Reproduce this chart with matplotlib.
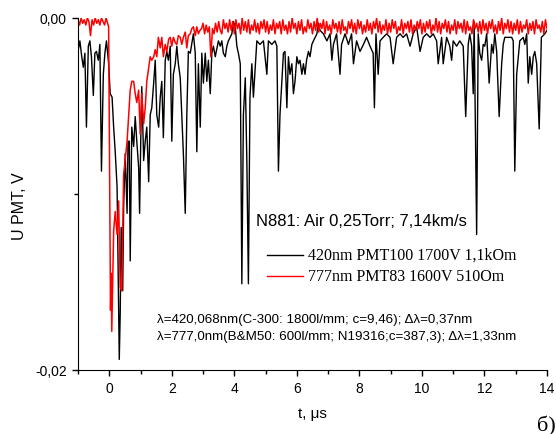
import numpy as np
import matplotlib
matplotlib.use("Agg")
import matplotlib.pyplot as plt
from matplotlib.lines import Line2D

plt.rcParams['font.family'] = ['Liberation Sans', 'DejaVu Sans']

# 420nm channel (black), time in us, signal in mV
black_t = [-1.0, -0.94, -0.88, -0.83, -0.78, -0.73, -0.67, -0.62, -0.57, -0.51, -0.46, -0.41, -0.35,
           -0.30, -0.25, -0.19, -0.14, -0.09, -0.02, 0.03, 0.09, 0.14, 0.19, 0.25, 0.30, 0.32, 0.35,
           0.38, 0.43, 0.46, 0.51, 0.57, 0.60, 0.64, 0.67, 0.72, 0.78, 0.83, 0.88, 0.94, 0.97, 1.01,
           1.04, 1.10, 1.15, 1.20, 1.26, 1.31, 1.36, 1.42, 1.47, 1.52, 1.58, 1.63, 1.68, 1.73, 1.79,
           1.84, 1.89, 1.95, 2.00, 2.05, 2.11, 2.16, 2.21, 2.27, 2.32, 2.37, 2.43, 2.48, 2.53, 2.59,
           2.69, 2.75, 2.80, 2.85, 2.91, 2.96, 3.01, 3.07, 3.12, 3.17, 3.23, 3.28, 3.33, 3.39, 3.49,
           3.55, 3.60, 3.65, 3.71, 3.76, 3.81, 3.92, 3.97, 4.03, 4.08, 4.13, 4.19, 4.24, 4.29, 4.35,
           4.40, 4.45, 4.50, 4.56, 4.61, 4.66, 4.72, 4.82, 4.93, 5.04, 5.09, 5.20, 5.30, 5.36, 5.41,
           5.46, 5.52, 5.57, 5.62, 5.68, 5.73, 5.78, 5.84, 5.89, 5.94, 6.00, 6.05, 6.10, 6.16, 6.21,
           6.26, 6.31, 6.37, 6.42, 6.48, 6.53, 6.64, 6.69, 6.74, 6.85, 6.96, 7.06, 7.12, 7.17, 7.27,
           7.38, 7.43, 7.54, 7.65, 7.75, 7.81, 7.91, 8.02, 8.13, 8.23, 8.34, 8.44, 8.48, 8.53, 8.60,
           8.66, 8.76, 8.87, 8.98, 9.08, 9.19, 9.30, 9.40, 9.51, 9.62, 9.72, 9.83, 9.94, 9.99, 10.04,
           10.15, 10.26, 10.36, 10.47, 10.52, 10.63, 10.68, 10.79, 10.89, 10.95, 11.00, 11.11, 11.21,
           11.32, 11.40, 11.48, 11.53, 11.59, 11.64, 11.67, 11.75, 11.80, 11.85, 11.91, 11.96, 12.01,
           12.07, 12.15, 12.23, 12.28, 12.33, 12.39, 12.47, 12.55, 12.60, 12.65, 12.76, 12.87, 12.92,
           12.97, 13.03, 13.13, 13.24, 13.29, 13.35, 13.40, 13.45, 13.51, 13.56, 13.61, 13.67, 13.75,
           13.82, 13.93, 14.0]
black_mv = [-1.9, -1.3, -2.2, -2.8, -2.0, -6.2, -1.6, -1.3, -2.2, -4.4, -2.0, -1.9, -2.4,
            -1.5, -8.7, -3.2, -2.0, -1.3, -2.6, -4.3, -4.5, -6.2, -7.6, -9.6, -16.8, -19.4, -16.8,
            -11.9, -15.5, -10.7, -7.7, -11.1, -7.0, -7.0, -13.8, -6.2, -7.3, -5.6, -7.0, -8.5, -11.1, -6.6,
            -3.9, -8.1, -7.0, -6.2, -9.3, -5.5, -5.1, -3.7, -2.4, -5.5, -6.2, -4.5, -3.6, -6.8, -2.4,
            -1.9, -2.4, -1.6, -7.0, -3.2, -2.6, -1.6, -2.6, -3.4, -5.5, -7.7, -11.1, -5.5, -1.9, -2.0,
            -0.9, -2.0, -7.6, -2.6, -6.2, -2.0, -3.7, -2.0, -3.6, -2.4, -4.3, -2.0, -1.6, -2.2, -1.3,
            -1.6, -1.3, -2.0, -2.2, -1.6, -1.3, -0.9, -0.2, -0.5, -1.6, -2.0, -2.6, -15.1, -5.5, -3.4,
            -8.1, -15.1, -4.5, -2.6, -4.5, -3.0, -1.3, -1.5, -1.3, -3.2, -1.3, -1.5, -1.3, -1.6, -8.7,
            -5.5, -3.6, -2.0, -1.9, -5.1, -2.2, -3.2, -2.6, -4.3, -3.6, -2.2, -2.6, -2.4, -3.2, -2.6,
            -3.2, -2.4, -1.9, -2.2, -1.5, -1.3, -0.9, -0.3, -0.7, -0.9, -1.3, -0.9, -2.4, -1.5, -0.9,
            -3.2, -1.5, -0.9, -1.5, -0.9, -2.6, -1.3, -1.9, -1.5, -1.1, -1.6, -2.0, -5.1, -0.9, -3.2,
            -1.3, -1.1, -0.9, -1.1, -2.6, -1.1, -0.9, -1.1, -0.9, -1.6, -0.9, -0.5, -1.9, -1.5, -1.1,
            -0.9, -1.1, -0.9, -1.3, -2.6, -1.1, -2.6, -1.1, -1.6, -2.4, -1.3, -1.6, -1.3,
            -1.6, -5.6, -1.5, -0.9, -1.6, -4.3, -0.2, -12.3, -0.9, -2.0, -2.4, -1.5, -1.6,
            -0.9, -3.7, -1.5, -2.0, -0.9, -1.9, -5.6, -2.6, -1.5, -1.1, -1.1, -1.1, -1.3,
            -8.7, -3.2, -1.3, -1.1, -1.5, -0.9, -3.7, -2.2, -3.2, -2.2, -1.9, -2.6, -6.3,
            -1.1, -0.9, -0.7]

# 777nm channel (red): pulse part
red_head_t = [-1.0, -0.95, -0.9, -0.85, -0.8, -0.75, -0.7, -0.65, -0.6, -0.55, -0.5, -0.45, -0.4,
              -0.35, -0.3, -0.25, -0.2, -0.15, -0.1, -0.05, -0.02, 0.04, 0.06, 0.08, 0.14, 0.19,
              0.25, 0.30, 0.35, 0.40, 0.46, 0.57, 0.67, 0.72, 0.78, 0.83, 0.88, 0.94, 0.99, 1.04,
              1.10, 1.15, 1.20, 1.31, 1.36, 1.42, 1.47, 1.52, 1.57, 1.63, 1.68, 1.73, 1.79, 1.84,
              1.90, 1.95, 2.00, 2.05, 2.11, 2.16, 2.21, 2.27, 2.32, 2.37, 2.43, 2.48, 2.53, 2.59,
              2.64, 2.69, 2.75, 2.80, 2.85, 2.90]
red_head_mv = [-0.1, -0.4, 0.0, -0.3, -0.1, -0.4, 0.0, -0.2, -1.0, -0.1, -0.4, 0.0, -0.3,
               -0.1, -0.4, 0.0, -0.2, -0.4, 0.0, -0.3, -0.5, -16.6, -14.5, -17.8, -12.1, -11.0,
               -12.3, -10.4, -15.3, -15.5, -8.9, -7.0, -4.1, -3.6, -3.6, -4.3, -4.8, -4.1, -6.6, -4.3,
               -6.0, -5.1, -3.6, -2.2, -2.4, -2.2, -1.8, -2.2, -1.1, -1.7, -1.1, -2.2, -1.5, -1.9,
               -1.2, -1.1, -1.6, -1.1, -1.4, -1.5, -1.0, -1.1, -1.5, -1.1, -0.8, -1.7, -1.0, -0.9,
               -0.6, -0.5, -1.0, -0.5, -0.9, -0.7]
# red tail, sampled every 0.05 us from 2.95 us
red_tail_mv = [-0.6, -0.3, -0.9, -0.4, -0.8, -0.5, -2.2, -0.6, -0.9, -0.3, -0.8, -0.2, -0.7, -0.9, -0.1, -0.6, -0.3, -0.8, -0.1, -0.7,
               -0.2, -0.9, -0.1, -0.6, -0.3, -0.9, 0.0, -0.7, -0.2, -0.8, -0.1, -0.9, -0.4, -0.7, -0.1, -0.8, -0.3, -0.9, -0.2, -0.6,
               -0.1, -0.8, -0.2, -0.9, -0.4, -0.7, -0.1, -0.9, -0.3, -0.6, -0.2, -0.9, -0.1, -0.7, -0.4, -0.9, -0.2, -0.8, 0.0, -0.6,
               -0.3, -0.9, -0.2, -0.7, -0.1, -0.9, -0.5, -0.8, -0.1, -0.6, -0.3, -0.9, -0.2, -0.7, 0.0, -0.8, -0.3, -0.6, -0.1, -0.9,
               -0.2, -0.7, -0.4, -0.9, -0.1, -0.6, -0.3, -0.8, -0.2, -0.9, -0.1, -0.7, -0.5, -0.9, -0.2, -0.6, -0.1, -0.8, -0.3, -0.9,
               -0.1, -0.6, -0.2, -0.9, -0.4, -0.8, -0.1, -0.7, -0.3, -0.9, -0.2, -0.6, 0.0, -0.8, -0.2, -0.9, -0.4, -0.7, -0.1, -0.9,
               -0.3, -0.8, -0.1, -0.6, -0.2, -0.9, -0.5, -0.7, -0.1, -0.9, -0.3, -0.6, -0.2, -0.8, -0.1, -0.9, -0.4, -0.7, -0.2, -0.6,
               -0.1, -0.9, -0.3, -0.8, -0.2, -0.6, -0.1, -0.9, -0.4, -0.7, 0.0, -0.8, -0.2, -0.9, -0.3, -0.6, -0.1, -0.8, -0.2, -0.9,
               -0.4, -0.7, -0.1, -0.9, -0.2, -0.6, -0.3, -0.8, -0.1, -0.9, -0.2, -0.7, -0.5, -0.9, -0.1, -0.6, -0.3, -0.8, -0.2, -0.9,
               -0.1, -0.7, -0.3, -0.9, -0.2, -0.6, -0.1, -0.8, -0.4, -0.9, -0.2, -0.7, 0.0, -0.9, -0.3, -0.6, -0.1, -0.8, -0.2, -0.9,
               -0.3, -0.7, -0.1, -0.9, -0.2, -0.8, -0.4, -0.6, -0.1, -0.9, -0.3, -0.7, -0.2, -0.9, -0.1, -0.6, -0.4, -0.8, -0.2, -0.9,
               -0.1, -0.6]
red_tail_t = np.round(2.95 + 0.05 * np.arange(len(red_tail_mv)), 2)

red_t = np.concatenate([red_head_t, red_tail_t])
red_v = np.array(red_head_mv + red_tail_mv) * 1e-3
black_v = np.array(black_mv) * 1e-3

legend_labels = ['420nm PMT100 1700V 1,1kOm', '777nm PMT83 1600V 510Om']
title_text = 'N881: Air 0,25Torr; 7,14km/s'
note_lines = ['\u03bb=420,068nm(C-300: 1800l/mm; c=9,46); \u0394\u03bb=0,37nm',
              '\u03bb=777,0nm(B&M50: 600l/mm; N19316;c=387,3); \u0394\u03bb=1,33nm']

W, H = 556, 435
fig = plt.figure(figsize=(W / 100, H / 100), dpi=100)
ax = fig.add_axes([78 / W, 1 - 371 / H, 469 / W, 352 / H])

def px(x):
    return x / W

def py(y):
    return 1 - y / H

ax.plot(black_t, black_v, color='black', lw=1.0)
ax.plot(red_t, red_v, color='#ff0000', lw=1.1)

ax.set_xlim(-1, 14)
ax.set_ylim(-0.02, 0.0)
ax.spines['top'].set_visible(False)
ax.spines['right'].set_visible(False)
ax.set_xticks(range(0, 15, 2))
ax.set_xticks(range(-1, 14, 2), minor=True)
ax.set_yticks([-0.02, 0.0])
ax.set_yticklabels(['-0,02', '0,00'])
ax.set_yticks([-0.01], minor=True)
ax.tick_params(which='major', direction='out', length=4, width=1, labelsize=10, pad=4)
ax.tick_params(which='minor', direction='out', length=3, width=1)

ax.set_xlabel('t, \u03bcs', fontsize=11)
ax.xaxis.set_label_coords((312 - 78) / 469, -(407 - 371) / 352)
ax.set_ylabel('U PMT, V', fontsize=11.5)
ax.yaxis.set_label_coords(-(78 - 27) / 469, (371 - 206) / 352)

fig.text(px(256), py(222), title_text, fontsize=12, va='center', ha='left')

# legend drawn by hand
for i, (lab, col) in enumerate(zip(legend_labels, ['black', '#ff0000'])):
    yy = 256 + 21 * i
    fig.add_artist(Line2D([px(267), px(303)], [py(yy), py(yy)], color=col, lw=1.0))
    fig.text(px(308), py(yy), lab, fontsize=11.5, family='Liberation Serif', va='center', ha='left')

for i, line in enumerate(note_lines):
    fig.text(px(157), py(320 + 17 * i), line, fontsize=9.6, va='center', ha='left')

fig.text(px(537), py(426), '\u0431)', fontsize=16, family='Liberation Serif', va='center', ha='left')

fig.savefig('out.png', dpi=100)
